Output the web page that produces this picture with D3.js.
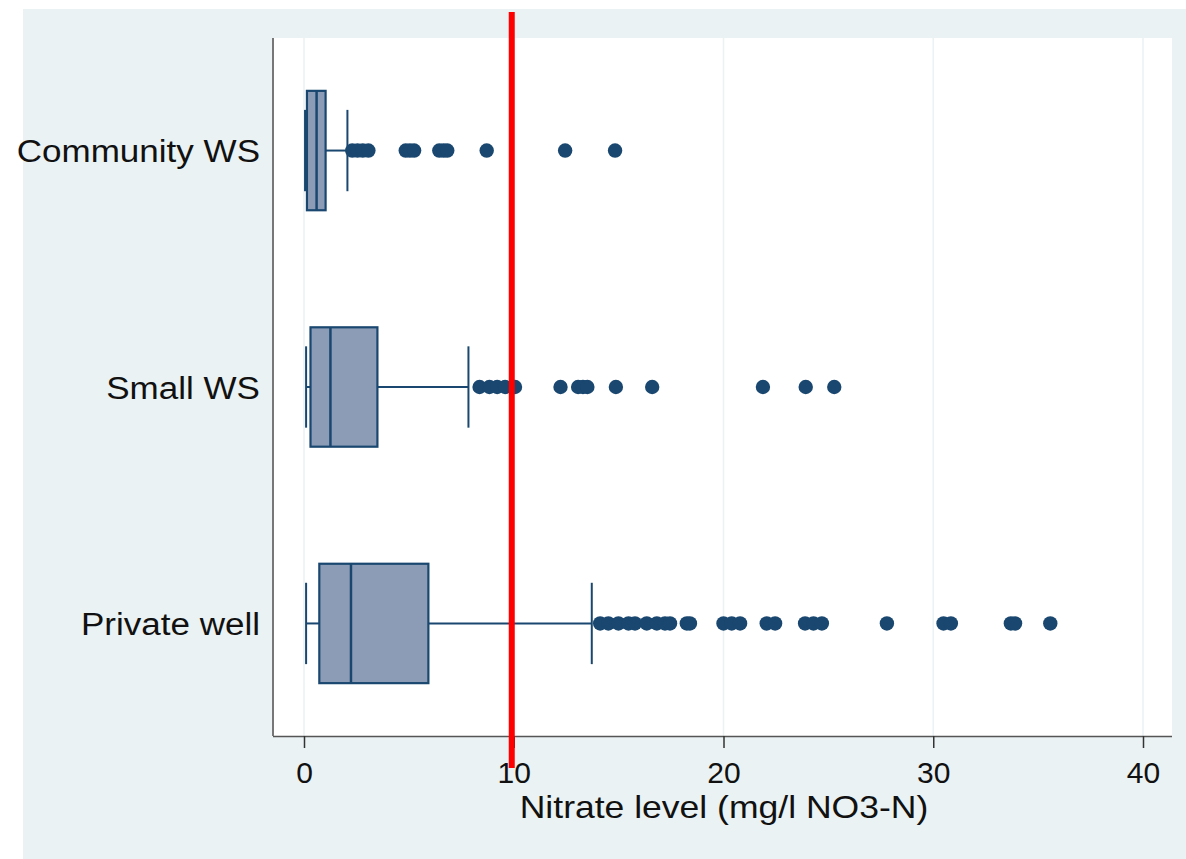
<!DOCTYPE html>
<html>
<head>
<meta charset="utf-8">
<script src="https://cdn.jsdelivr.net/npm/d3@7"></script>
<style>
  html, body { margin: 0; padding: 0; background: #ffffff; }
  svg { display: block; }
  text { font-family: "Liberation Sans", Arial, sans-serif; fill: #111; }
</style>
</head>
<body>
<svg id="chart" width="1186" height="859"></svg>
<script>
// ---- data ----
const categories = ["Community WS", "Small WS", "Private well"];
const lowerWhisker = [0.05, 0.1, 0.1];
const q1 = [0.14, 0.31, 0.73];
const median = [0.6, 1.26, 2.24];
const q3 = [1.03, 3.5, 5.93];
const upperWhisker = [2.07, 7.84, 13.72];
const outliersCommunity = [2.3, 2.55, 2.8, 3.07, 4.85, 5.05, 5.25, 6.45, 6.65, 6.83, 8.71, 12.45, 14.83];
const outliersSmall = [8.37, 8.84, 9.21, 9.59, 10.06, 12.23, 13.07, 13.3, 13.51, 14.87, 16.6, 21.88, 23.92, 25.28];
const outliersPrivate = [14.12, 14.51, 14.99, 15.47, 15.78, 16.34, 16.82, 17.21, 17.45, 18.25, 18.4,
  20.0, 20.39, 20.79, 22.06, 22.46, 23.89, 24.29, 24.69, 27.79, 30.49, 30.84, 33.7, 33.9, 35.58];
const xTicks = [0, 10, 20, 30, 40];
const threshold = 10;
const xTitle = "Nitrate level (mg/l NO3-N)";

const outliers = [outliersCommunity, outliersSmall, outliersPrivate];
const rows = categories.map((c, i) => ({
  cat: c, lo: lowerWhisker[i], q1: q1[i], med: median[i], q3: q3[i], hi: upperWhisker[i], out: outliers[i]
}));

// ---- layout ----
const svg = d3.select("#chart");
const W = 1186, H = 859;
const plot = { left: 273, right: 1172, top: 38, bottom: 736 };
const navy = "#1A476F", boxFill = "#8C9CB6", bg = "#EAF2F3";

svg.append("rect").attr("x", 23).attr("y", 9).attr("width", W - 23).attr("height", H - 9).attr("fill", bg);
svg.append("rect").attr("x", plot.left).attr("y", plot.top)
  .attr("width", plot.right - plot.left).attr("height", plot.bottom - plot.top).attr("fill", "#fff");

const x = d3.scaleLinear().domain([0, 40]).range([304, 1143]);
const y = d3.scalePoint().domain(categories).range([plot.top, plot.bottom]).padding(0.476);
const step = y.step();
const boxH = step * 0.505;
const capHalf = step * 0.172;

// grid
svg.append("g").selectAll("line").data(xTicks).join("line")
  .attr("x1", d => x(d)).attr("x2", d => x(d))
  .attr("y1", plot.top).attr("y2", plot.bottom)
  .attr("stroke", bg).attr("stroke-width", 1.5);

// x axis
const xAxis = d3.axisBottom(x).tickValues(xTicks).tickSize(12).tickPadding(14).tickFormat(d3.format("d"));
const gx = svg.append("g").attr("transform", `translate(0,${plot.bottom})`).call(xAxis);
gx.select(".domain").attr("d", `M${plot.left},0.5H${plot.right}`).attr("stroke", "#555").attr("stroke-width", 1.5);
gx.selectAll(".tick line").attr("stroke", "#333").attr("stroke-width", 1.5);
gx.selectAll(".tick text").attr("font-size", 30).attr("fill", "#111")
  .attr("font-family", "Liberation Sans, Arial, sans-serif").attr("dy", "0.71em");

// left axis line
svg.append("line").attr("x1", plot.left).attr("x2", plot.left)
  .attr("y1", plot.top).attr("y2", plot.bottom).attr("stroke", "#777").attr("stroke-width", 2);

// category labels
const yAxis = d3.axisLeft(y).tickSize(0).tickPadding(13);
const gy = svg.append("g").attr("transform", `translate(${plot.left},0)`).call(yAxis);
gy.select(".domain").remove();
gy.selectAll(".tick text").attr("font-size", 31).attr("fill", "#111")
  .attr("font-family", "Liberation Sans, Arial, sans-serif").attr("dy", "0.36em")
  .each(function () {
    const w = this.getComputedTextLength();
    d3.select(this).attr("textLength", w * 1.13).attr("lengthAdjust", "spacingAndGlyphs");
  });

// x title
const tt = svg.append("text").attr("x", (520 + 928) / 2).attr("y", 818)
  .attr("text-anchor", "middle").attr("font-size", 32).text(xTitle);
tt.attr("textLength", tt.node().getComputedTextLength() * 1.11).attr("lengthAdjust", "spacingAndGlyphs");

// boxes
const g = svg.append("g");
rows.forEach(r => {
  const cy = y(r.cat);
  // whiskers
  g.append("line").attr("x1", x(r.lo)).attr("x2", x(r.q1)).attr("y1", cy).attr("y2", cy)
    .attr("stroke", navy).attr("stroke-width", 2);
  g.append("line").attr("x1", x(r.q3)).attr("x2", x(r.hi)).attr("y1", cy).attr("y2", cy)
    .attr("stroke", navy).attr("stroke-width", 2);
  [r.lo, r.hi].forEach(v => {
    g.append("line").attr("x1", x(v)).attr("x2", x(v)).attr("y1", cy - capHalf).attr("y2", cy + capHalf)
      .attr("stroke", navy).attr("stroke-width", 2);
  });
  // box
  g.append("rect").attr("x", x(r.q1)).attr("y", cy - boxH / 2)
    .attr("width", x(r.q3) - x(r.q1)).attr("height", boxH)
    .attr("fill", boxFill).attr("stroke", navy).attr("stroke-width", 2.2);
  g.append("line").attr("x1", x(r.med)).attr("x2", x(r.med))
    .attr("y1", cy - boxH / 2).attr("y2", cy + boxH / 2)
    .attr("stroke", navy).attr("stroke-width", 2.5);
  // outliers
  g.selectAll(null).data(r.out).join("circle")
    .attr("cx", d => x(d)).attr("cy", cy).attr("r", 7.2).attr("fill", navy);
});

// threshold line
svg.append("line").attr("x1", x(threshold) - 2).attr("x2", x(threshold) - 2)
  .attr("y1", 12).attr("y2", 768).attr("stroke", "#FF0000").attr("stroke-width", 6);
</script>
</body>
</html>
